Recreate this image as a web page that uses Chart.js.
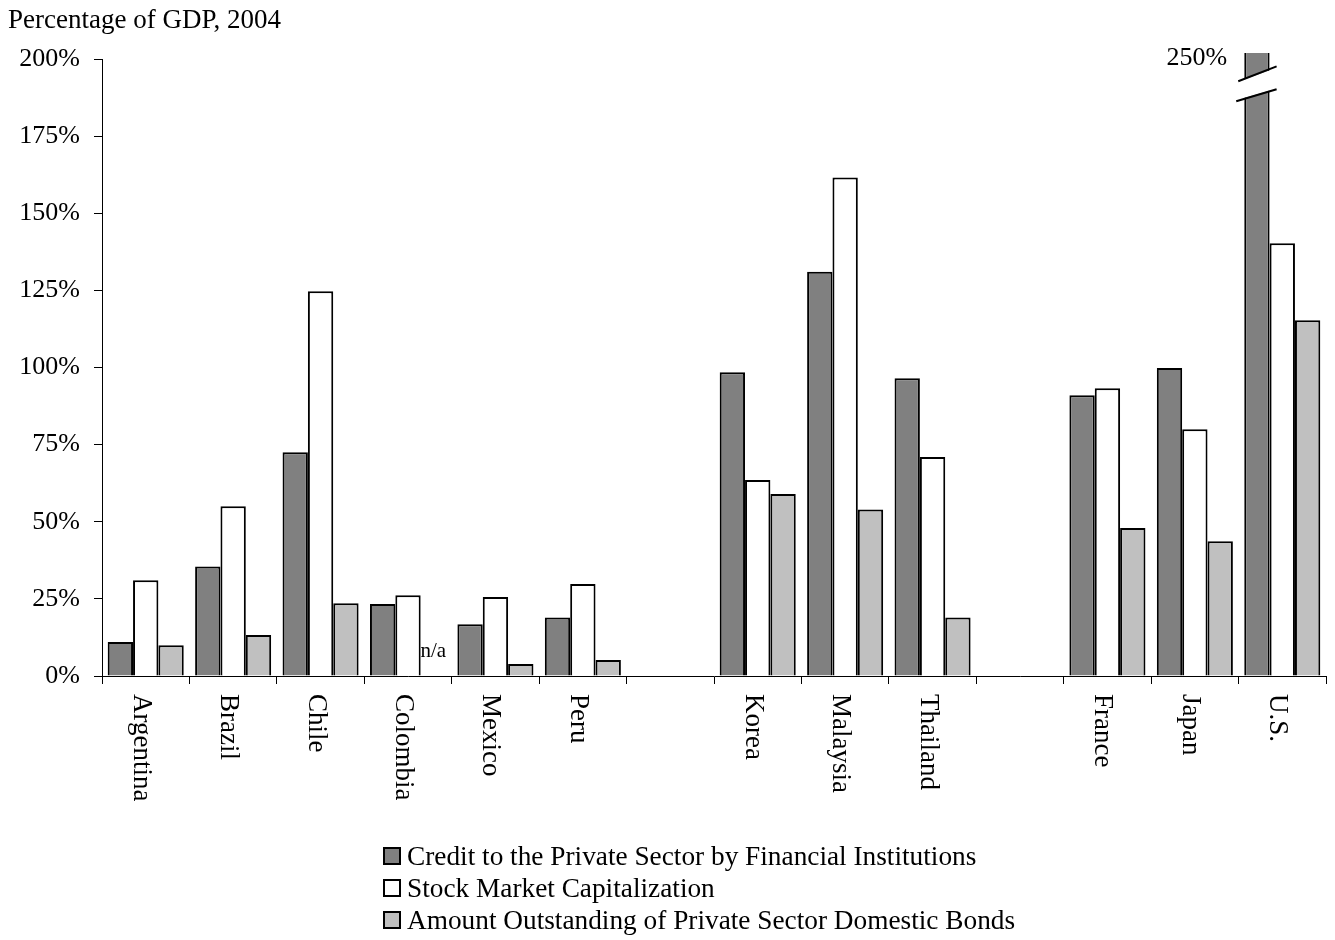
<!DOCTYPE html>
<html>
<head>
<meta charset="utf-8">
<script src="https://cdn.jsdelivr.net/npm/chart.js@4"></script>
<style>
  body { margin: 0; background: #fff; }
  #wrap { position: relative; width: 1335px; height: 940px; font-family: "Liberation Serif", serif; }
  #title { position: absolute; left: 8px; top: 4px; font-size: 27px; white-space: nowrap; }
  #legend { position: absolute; left: 383px; top: 840px; font-size: 27.3px; line-height: 32px; white-space: nowrap; }
  #legend span.box { display: inline-block; width: 14px; height: 14px; border: 2px solid #000; margin-right: 6px; }
</style>
</head>
<body>
<div id="wrap">
  <canvas id="gdpChart" width="1335" height="940"></canvas>
  <div id="title">Percentage of GDP, 2004</div>
  <div id="legend">
    <div><span class="box" style="background:#808080"></span>Credit to the Private Sector by Financial Institutions</div>
    <div><span class="box" style="background:#fff"></span>Stock Market Capitalization</div>
    <div><span class="box" style="background:#c0c0c0"></span>Amount Outstanding of Private Sector Domestic Bonds</div>
  </div>
</div>
<script>
const countries = ["Argentina", "Brazil", "Chile", "Colombia", "Mexico", "Peru", "",
    "Korea", "Malaysia", "Thailand", "", "France", "Japan", "U.S."];
const credit = [11, 35.5, 72.5, 23.3, 16.8, 19, null, 98.5, 131, 96.5, null, 91, 99.8, 250];
const stockCap = [31, 55, 124.7, 26.2, 25.6, 29.8, null, 63.5, 161.6, 71, null, 93.3, 80, 140.3];
const bonds = [10, 13.3, 23.6, null, 3.9, 5.2, null, 59, 54, 19, null, 48, 43.7, 115.3];
const yTicks = [0, 25, 50, 75, 100, 125, 150, 175, 200];

const serif = "'Liberation Serif', 'Times New Roman', serif";

// rotated country names, n/a note and the broken U.S. bar
const extras = {
    id: "extras",
    afterDatasetsDraw(chart) {
        const ctx = chart.ctx;
        const x = chart.scales.x;
        const y = chart.scales.y;
        ctx.save();

        // axis break on the U.S. credit bar
        const us = chart.getDatasetMeta(0).data[13];
        const l = us.x - us.width / 2, r = us.x + us.width / 2;
        const y1a = y.getPixelForValue(192.8), y1b = y.getPixelForValue(197.6);
        const y2a = y.getPixelForValue(186.3), y2b = y.getPixelForValue(190.2);
        ctx.fillStyle = "#fff";
        ctx.beginPath();
        ctx.moveTo(l - 8, y1a + 1);
        ctx.lineTo(r + 8, y1b + 1);
        ctx.lineTo(r + 8, y2b - 1);
        ctx.lineTo(l - 8, y2a - 1);
        ctx.closePath();
        ctx.fill();
        ctx.strokeStyle = "#000";
        ctx.lineWidth = 2;
        ctx.beginPath();
        ctx.moveTo(l - 6, y1a);
        ctx.lineTo(r + 7, y1b);
        ctx.moveTo(l - 8, y2a);
        ctx.lineTo(r + 7, y2b);
        ctx.stroke();

        ctx.fillStyle = "#000";
        ctx.font = "26px " + serif;
        ctx.textAlign = "right";
        ctx.textBaseline = "alphabetic";
        ctx.fillText("250%", l - 17, y.getPixelForValue(198.2));

        // n/a for Colombia bonds
        const na = chart.getDatasetMeta(2).data[3];
        ctx.font = "21px " + serif;
        ctx.textAlign = "center";
        ctx.fillText("n/a", na.x, y.getPixelForValue(0) - 19);

        // category labels, reading downward
        ctx.font = "27px " + serif;
        ctx.textAlign = "left";
        ctx.textBaseline = "alphabetic";
        countries.forEach((name, i) => {
            if (!name) return;
            ctx.save();
            ctx.translate(x.getPixelForValue(i) - 12, y.bottom + 18);
            ctx.rotate(Math.PI / 2);
            ctx.fillText(name, 0, 0);
            ctx.restore();
        });
        ctx.restore();
    }
};

const chart = new Chart(document.getElementById("gdpChart"), {
    type: "bar",
    data: {
        labels: countries,
        datasets: [
            { data: credit, backgroundColor: "#808080", clip: { left: 0, right: 0, top: 6, bottom: 0 } },
            { data: stockCap, backgroundColor: "#ffffff" },
            { data: bonds, backgroundColor: "#c0c0c0" }
        ]
    },
    options: {
        responsive: false,
        animation: false,
        layout: { padding: { top: 59, right: 9, left: 0, bottom: 0 } },
        datasets: {
            bar: {
                borderColor: "#000",
                borderWidth: 2,
                categoryPercentage: 0.87,
                barPercentage: 1
            }
        },
        plugins: {
            legend: { display: false },
            tooltip: { enabled: false }
        },
        scales: {
            x: {
                ticks: { display: false },
                grid: { display: true, drawOnChartArea: false, offset: true, tickLength: 8, color: "#000", lineWidth: 1 },
                border: { color: "#000", width: 1 },
                afterFit(scale) { scale.height = 264; }
            },
            y: {
                min: 0,
                max: 200,
                afterBuildTicks(scale) { scale.ticks = yTicks.map(v => ({ value: v })); },
                ticks: {
                    color: "#000",
                    padding: 14,
                    font: { family: serif, size: 26 },
                    callback: v => v + "%"
                },
                grid: { drawOnChartArea: false, tickLength: 8, color: "#000", lineWidth: 1 },
                border: { color: "#000", width: 1 },
                afterFit(scale) { scale.width = 102; }
            }
        }
    },
    plugins: [extras]
});
</script>
</body>
</html>
